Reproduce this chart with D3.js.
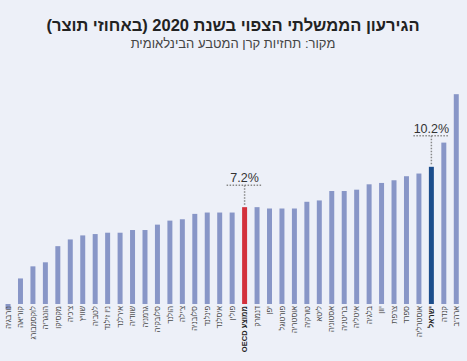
<!DOCTYPE html>
<html>
<head>
<meta charset="utf-8">
<script src="https://cdn.jsdelivr.net/npm/d3@7"></script>
<style>
  body { margin: 0; background: #edf0f8; }
  svg { display: block; font-family: "Liberation Sans", Arial, "DejaVu Sans", sans-serif; }
</style>
</head>
<body>
<div id="chart"></div>
<script>
// countries, left to right (lowest deficit to highest)
var countries = ["נורבגיה", "קוריאה", "לוקסמבורג", "הונגריה", "מקסיקו", "צ'כיה", "שוויץ", "לטביה",
    "ניו זילנד", "אירלנד", "שוודיה", "גרמניה", "סלובקיה", "הולנד", "צ'ילה", "סלובניה", "פינלנד",
    "איסלנד", "פולין", "ממוצע OECD", "דנמרק", "יפן", "פורטוגל", "אוסטריה", "טורקיה", "ליטא",
    "אסטוניה", "בריטניה", "איטליה", "בלגיה", "יוון", "צרפת", "ספרד", "אוסטרליה", "ישראל", "קנדה", "ארה\"ב"];

// deficit 2020, % of GDP
var deficits = [-0.4, 1.9, 2.8, 3.1, 4.3, 4.8, 5.1, 5.2, 5.3, 5.3, 5.5, 5.5, 5.9, 6.2, 6.3, 6.7, 6.8,
    6.8, 6.8, 7.2, 7.2, 7.1, 7.1, 7.1, 7.6, 7.7, 8.4, 8.4, 8.5, 8.9, 9.0, 9.2, 9.5, 9.7, 10.2, 12.0, 15.6];

var highlights = ["ממוצע OECD", "ישראל"];
var callouts = ["ממוצע OECD", "ישראל"];

var titleText = "הגירעון הממשלתי הצפוי בשנת 2020 (באחוזי תוצר)";
var subtitleText = "מקור: תחזיות קרן המטבע הבינלאומית";

var width = 467, height = 361;
var baseY = 304;

var data = countries.map(function(c, i) {
    return {name: c, value: deficits[i]};
});

var svg = d3.select("#chart").append("svg")
    .attr("width", width)
    .attr("height", height);

svg.append("rect")
    .attr("width", width)
    .attr("height", height)
    .attr("fill", "#edf0f8");

svg.append("text")
    .attr("x", 233)
    .attr("y", 31)
    .attr("text-anchor", "middle")
    .attr("direction", "rtl")
    .attr("font-size", 16.5)
    .attr("font-weight", "bold")
    .attr("fill", "#222")
    .text(titleText);

svg.append("text")
    .attr("x", 233)
    .attr("y", 48)
    .attr("text-anchor", "middle")
    .attr("direction", "rtl")
    .attr("font-size", 13)
    .attr("fill", "#444")
    .text(subtitleText);

var x = d3.scaleBand()
    .domain(countries)
    .range([1.8, 462.5])
    .paddingInner(0.6)
    .paddingOuter(0.3);

var y = d3.scaleLinear()
    .domain([0, 10])
    .range([baseY, baseY - 134.5]);

function barColor(d) {
    if (d.name == "ממוצע OECD") return "#d3313c";
    if (d.name == "ישראל") return "#1b4d8c";
    return "#8896c7";
}

svg.selectAll("rect.bar")
    .data(data)
    .join("rect")
    .attr("class", "bar")
    .attr("x", d => x(d.name))
    .attr("width", x.bandwidth())
    .attr("y", d => Math.min(y(d.value), y(0)))
    .attr("height", d => Math.abs(y(d.value) - y(0)))
    .attr("fill", barColor);

// category labels, rotated
svg.selectAll("text.cat")
    .data(data)
    .join("text")
    .attr("class", "cat")
    .attr("direction", "rtl")
    .attr("text-anchor", "start")
    .attr("font-size", 7.5)
    .attr("font-weight", d => highlights.indexOf(d.name) >= 0 ? "bold" : "normal")
    .attr("fill", d => highlights.indexOf(d.name) >= 0 ? "#222" : "#4a4a4a")
    .attr("transform", d => "translate(" + (x(d.name) + x.bandwidth() / 2 + 2.7) + "," + (baseY + 2) + ") rotate(-90)")
    .text(d => d.name);

// callouts
var offsets = {"ממוצע OECD": 22, "ישראל": 31};
var cdata = data.filter(d => callouts.indexOf(d.name) >= 0);

var cg = svg.selectAll("g.callout")
    .data(cdata)
    .join("g")
    .attr("class", "callout");

cg.append("line")
    .attr("x1", d => x(d.name) + x.bandwidth() / 2 - 18)
    .attr("x2", d => x(d.name) + x.bandwidth() / 2 + 18)
    .attr("y1", d => y(d.value) - offsets[d.name])
    .attr("y2", d => y(d.value) - offsets[d.name])
    .attr("stroke", "#888")
    .attr("stroke-width", 1.5)
    .attr("stroke-dasharray", "1.5,1.5");

cg.append("line")
    .attr("x1", d => x(d.name) + x.bandwidth() / 2)
    .attr("x2", d => x(d.name) + x.bandwidth() / 2)
    .attr("y1", d => y(d.value) - offsets[d.name])
    .attr("y2", d => y(d.value) - 2)
    .attr("stroke", "#888")
    .attr("stroke-width", 1.5)
    .attr("stroke-dasharray", "1.5,1.5");

cg.append("text")
    .attr("x", d => x(d.name) + x.bandwidth() / 2)
    .attr("y", d => y(d.value) - offsets[d.name] - 3)
    .attr("text-anchor", "middle")
    .attr("font-size", 12.5)
    .attr("fill", "#333")
    .text(d => d.value.toFixed(1) + "%");
</script>
</body>
</html>
